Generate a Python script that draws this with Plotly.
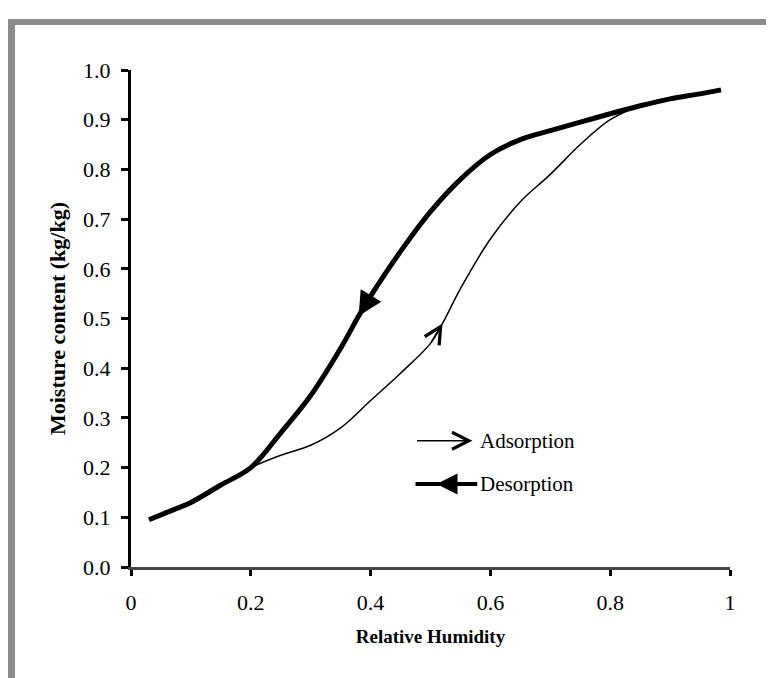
import plotly.graph_objects as go

# ---- data ----
rh_ads = [0.03, 0.06, 0.10, 0.15, 0.20, 0.25, 0.30, 0.35, 0.40, 0.45, 0.50, 0.52,
          0.55, 0.60, 0.65, 0.70, 0.75, 0.80, 0.85, 0.90, 0.95, 0.985]
mc_ads = [0.095, 0.11, 0.13, 0.165, 0.20, 0.225, 0.245, 0.28, 0.335, 0.39, 0.45, 0.49,
          0.56, 0.66, 0.735, 0.79, 0.85, 0.90, 0.928, 0.944, 0.952, 0.96]

# desorption listed in the direction of travel (high RH -> low RH)
rh_des = [0.985, 0.95, 0.90, 0.85, 0.80, 0.75, 0.70, 0.65, 0.60, 0.55, 0.50, 0.45,
          0.40, 0.38, 0.35, 0.30, 0.25, 0.20, 0.15, 0.10, 0.06, 0.03]
mc_des = [0.96, 0.952, 0.942, 0.928, 0.912, 0.895, 0.878, 0.86, 0.83, 0.78, 0.715, 0.635,
          0.545, 0.505, 0.44, 0.345, 0.27, 0.20, 0.165, 0.13, 0.11, 0.095]

ads_arrow_idx = 11   # point where the adsorption arrowhead sits
des_arrow_idx = 13   # point where the desorption arrowhead sits

x_ticks = [0, 0.2, 0.4, 0.6, 0.8, 1]
x_ticktext = ["0", "0.2", "0.4", "0.6", "0.8", "1"]
y_ticks = [0.0, 0.1, 0.2, 0.3, 0.4, 0.5, 0.6, 0.7, 0.8, 0.9, 1.0]
y_ticktext = ["%.1f" % v for v in y_ticks]

legend_names = ["Adsorption", "Desorption"]

FONT = "Liberation Serif"
W, H = 774, 678
L, R, T, B = 123, 722, 62, 559


def px(xp):
    return (xp - L) / (R - L)


def py(yp):
    return (B - yp) / (B - T)


fig = go.Figure()
fig.add_trace(go.Scatter(x=rh_des, y=mc_des, mode="lines", line=dict(color="black", width=5, shape="spline"),
                         showlegend=False, hoverinfo="skip"))
fig.add_trace(go.Scatter(x=rh_ads, y=mc_ads, mode="lines", line=dict(color="black", width=1.5, shape="spline"),
                         showlegend=False, hoverinfo="skip"))

ann = []
# arrowheads on curves
ann.append(dict(x=rh_des[des_arrow_idx], y=mc_des[des_arrow_idx], ax=rh_des[des_arrow_idx - 1],
                ay=mc_des[des_arrow_idx - 1], xref="x", yref="y", axref="x", ayref="y", text="",
                showarrow=True, arrowhead=2, arrowwidth=4, arrowsize=1.2, arrowcolor="black"))
ann.append(dict(x=rh_ads[ads_arrow_idx], y=mc_ads[ads_arrow_idx], ax=rh_ads[ads_arrow_idx - 1],
                ay=mc_ads[ads_arrow_idx - 1], xref="x", yref="y", axref="x", ayref="y", text="",
                showarrow=True, arrowhead=5, arrowwidth=1.5, arrowsize=2.2, arrowcolor="black"))

# legend keys
leg_y = [0.254, 0.167]
ann.append(dict(x=0.57, y=leg_y[0], ax=0.475, ay=leg_y[0], xref="x", yref="y", axref="x", ayref="y",
                text="", showarrow=True, arrowhead=5, arrowwidth=1.5, arrowsize=2.2, arrowcolor="black"))
ann.append(dict(x=0.51, y=leg_y[1], ax=0.565, ay=leg_y[1], xref="x", yref="y", axref="x", ayref="y",
                text="", showarrow=True, arrowhead=2, arrowwidth=3.5, arrowsize=1.2, arrowcolor="black"))
for name, yy in zip(legend_names, leg_y):
    ann.append(dict(x=0.58, y=yy, xref="x", yref="y", text=name, showarrow=False, xanchor="left",
                    yanchor="middle", font=dict(family=FONT, size=21, color="black")))

shapes = [
    dict(type="line", xref="x", yref="y", x0=0.475, x1=0.578, y0=leg_y[1], y1=leg_y[1],
         line=dict(color="black", width=4)),
    # scanned frame
    dict(type="rect", xref="paper", yref="paper", x0=px(0), x1=px(774), y0=py(11), y1=py(17),
         line=dict(width=0), fillcolor="#8c8c8c", layer="below"),
    dict(type="rect", xref="paper", yref="paper", x0=px(0), x1=px(7), y0=py(11), y1=py(678),
         line=dict(width=0), fillcolor="#8c8c8c", layer="below"),
    dict(type="line", xref="paper", yref="paper", x0=px(8), x1=px(774), y0=py(674), y1=py(674),
         line=dict(color="#9a9a9a", width=2, dash="dash"), layer="below"),
]

fig.update_layout(
    width=W, height=H,
    margin=dict(l=L, r=W - R, t=T, b=H - B, pad=0),
    paper_bgcolor="white", plot_bgcolor="white",
    font=dict(family=FONT, color="black"),
    annotations=ann, shapes=shapes, showlegend=False,
)
fig.update_xaxes(
    range=[0, 1], tickvals=x_ticks, ticktext=x_ticktext, showgrid=False, zeroline=False,
    showline=True, linecolor="#444444", linewidth=3, ticks="outside", ticklen=6, tickwidth=3,
    tickcolor="black", tickfont=dict(family=FONT, size=22), ticklabelstandoff=8,
    title=dict(text="<b>Relative Humidity</b>", font=dict(family=FONT, size=19), standoff=16),
)
fig.update_yaxes(
    range=[0, 1], tickvals=y_ticks, ticktext=y_ticktext, showgrid=False, zeroline=False,
    showline=True, linecolor="black", linewidth=3, ticks="outside", ticklen=7, tickwidth=3,
    tickcolor="black", tickfont=dict(family=FONT, size=22), ticklabelstandoff=6,
    title=dict(text="<b>Moisture content (kg/kg)</b>", font=dict(family=FONT, size=22), standoff=12),
)

fig.write_html("out.html")
